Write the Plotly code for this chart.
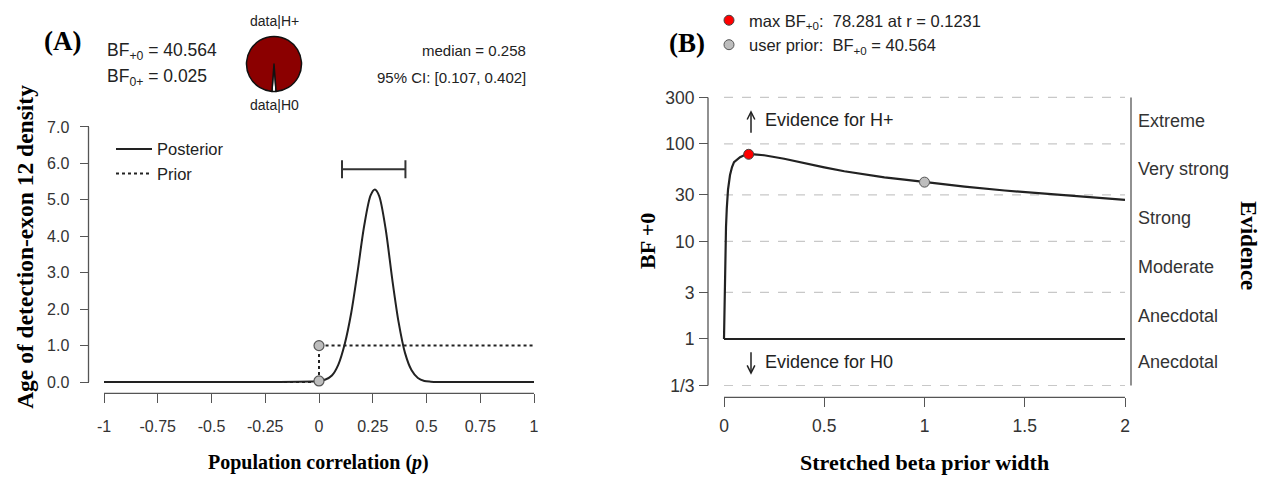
import math
import plotly.graph_objects as go

# ---------------- data ----------------
# Panel A: posterior / prior density of the population correlation
post_x = [-1.0, -0.5, 0.0, 0.03, 0.06, 0.09, 0.12, 0.15, 0.18, 0.21, 0.24, 0.26,
          0.28, 0.31, 0.34, 0.37, 0.40, 0.43, 0.46, 0.49, 0.52, 0.55, 0.6, 0.8, 1.0]
post_y = [0.0, 0.0, 0.03, 0.07, 0.18, 0.48, 1.05, 1.90, 3.05, 4.28, 5.12, 5.28,
          5.10, 4.20, 2.85, 1.65, 0.80, 0.33, 0.11, 0.03, 0.01, 0.0, 0.0, 0.0, 0.0]
prior_x = [-1.0, 0.0, 0.0, 1.0]
prior_y = [0.0, 0.0, 1.0, 1.0]
point_x = [0.0, 0.0]
point_y = [1.0, 0.03]
ci_low, ci_high = 0.107, 0.402
ci_y = 5.84
median_val = 0.258
bf_plus0 = 40.564
bf_0plus = 0.025
pie_labels = ["data|H0", "data|H+"]
pie_values = [1.0, 40.564]
xa_ticks = [-1, -0.75, -0.5, -0.25, 0, 0.25, 0.5, 0.75, 1]
xa_ticktext = ["-1", "-0.75", "-0.5", "-0.25", "0", "0.25", "0.5", "0.75", "1"]
ya_ticks = [0, 1, 2, 3, 4, 5, 6, 7]

# Panel B: robustness check
width_vals = [0, 0.002, 0.004, 0.007, 0.01, 0.014, 0.02, 0.03, 0.04, 0.05, 0.065, 0.08,
              0.1, 0.1231, 0.15, 0.2, 0.3, 0.4, 0.5, 0.6, 0.7, 0.8, 0.9, 1.0,
              1.2, 1.4, 1.6, 1.8, 2.0]
bf_vals = [1, 2, 4, 8, 14, 22, 34, 48, 58, 65, 69, 73,
           76.5, 78.281, 78.0, 76.5, 70.5, 63.5, 57.5, 52.5, 48.5, 45.5, 43, 40.564,
           36.5, 33.3, 30.8, 28.6, 26.7]
max_w, max_bf = 0.1231, 78.281
user_w, user_bf = 1.0, 40.564
xb_ticks = [0, 0.5, 1, 1.5, 2]
xb_ticktext = ["0", "0.5", "1", "1.5", "2"]
thresholds = [1/3, 1, 3, 10, 30, 100, 300]
threshold_text = ["1/3", "1", "3", "10", "30", "100", "300"]
evidence_labels = ["Anecdotal", "Anecdotal", "Moderate", "Strong", "Very strong", "Extreme"]

# ---------------- layout helpers ----------------
W, H = 1263, 477
SANS = "Liberation Sans, Arial, sans-serif"
SERIF = "Liberation Serif, Times New Roman, serif"
INK = "#222222"
AX = "#555555"
TXT = "#333333"


def fx(px):
    return px / W


def fy(py):
    return 1 - py / H


def dom(p1, v1, p2, v2, r0, r1):
    k = (p2 - p1) / (v2 - v1)
    return p1 + (r0 - v1) * k, p1 + (r1 - v1) * k


# panel A mapping
xa_range = [-1.06, 1.06]
xa_d = dom(104, -1, 534, 1, *xa_range)
ya_range = [-0.3, 7.15]
ya_d = dom(384.5, 0, 125, 7, *ya_range)
# panel B mapping
xb_range = [-0.05, 2.05]
xb_d = dom(724, 0, 1125, 2, *xb_range)
lo, hi = math.log10(1/3), math.log10(300)
yb_range = [lo - 0.06, hi + 0.06]
yb_d = dom(388, lo, 95, hi, *yb_range)

fig = go.Figure()

# ---------- panel A traces ----------
fig.add_trace(go.Scatter(x=post_x, y=post_y, mode="lines", name="Posterior",
                         line=dict(color=INK, width=2, shape="spline", smoothing=0.8),
                         xaxis="x", yaxis="y", legend="legend", hoverinfo="skip"))
fig.add_trace(go.Scatter(x=prior_x, y=prior_y, mode="lines", name="Prior",
                         line=dict(color=INK, width=2, dash="dot"),
                         xaxis="x", yaxis="y", legend="legend", hoverinfo="skip"))
fig.add_trace(go.Scatter(x=point_x, y=point_y, mode="markers", showlegend=False,
                         marker=dict(size=10, color="#bdbdbd", line=dict(color="#555555", width=1.2)),
                         xaxis="x", yaxis="y", cliponaxis=False, hoverinfo="skip"))
ci_mid = (ci_low + ci_high) / 2
fig.add_trace(go.Scatter(x=[ci_mid], y=[ci_y], mode="markers", showlegend=False,
                         marker=dict(size=1, color="rgba(0,0,0,0)"),
                         error_x=dict(type="data", symmetric=False, array=[ci_high - ci_mid],
                                      arrayminus=[ci_mid - ci_low], color="#333333",
                                      thickness=2, width=9),
                         xaxis="x", yaxis="y", hoverinfo="skip"))
fig.add_trace(go.Pie(labels=pie_labels, values=pie_values, sort=False, direction="clockwise",
                     rotation=180 - 180 * pie_values[0] / sum(pie_values),
                     marker=dict(colors=["#ffffff", "#8b0000"], line=dict(color="#111111", width=1.5)),
                     textinfo="none", showlegend=False, hoverinfo="skip",
                     domain=dict(x=[fx(246), fx(302)], y=[fy(89), fy(33)])))

# ---------- panel B traces ----------
for i, t in enumerate(thresholds):
    if t == 1:
        continue
    fig.add_trace(go.Scatter(x=[xb_ticks[0], xb_ticks[-1]], y=[t, t], mode="lines",
                             showlegend=False, line=dict(color="#c8c8c8", width=1.2, dash="dash"),
                             xaxis="x2", yaxis="y2", hoverinfo="skip"))
fig.add_trace(go.Scatter(x=[xb_ticks[0], xb_ticks[-1]], y=[1, 1], mode="lines", showlegend=False,
                         line=dict(color=INK, width=2), xaxis="x2", yaxis="y2", hoverinfo="skip"))
fig.add_trace(go.Scatter(x=width_vals, y=bf_vals, mode="lines", showlegend=False,
                         line=dict(color=INK, width=2.2), xaxis="x2", yaxis="y2", hoverinfo="skip"))
fig.add_trace(go.Scatter(x=[max_w], y=[max_bf], mode="markers",
                         name="max BF<sub>+0</sub>:  78.281 at r = 0.1231",
                         marker=dict(size=10, color="#ff0000", line=dict(color="#444444", width=1)),
                         xaxis="x2", yaxis="y2", legend="legend2", hoverinfo="skip"))
fig.add_trace(go.Scatter(x=[user_w], y=[user_bf], mode="markers",
                         name="user prior:  BF<sub>+0</sub> = 40.564",
                         marker=dict(size=10, color="#bdbdbd", line=dict(color="#555555", width=1)),
                         xaxis="x2", yaxis="y2", legend="legend2", hoverinfo="skip"))

tickfont = dict(family=SANS, size=16, color=TXT)
tickfontb = dict(family=SANS, size=17.5, color=TXT)
common = dict(showgrid=False, zeroline=False, showline=False, ticks="outside",
              ticklen=9, tickwidth=1.2, tickcolor=AX)

fig.update_layout(
    width=W, height=H, margin=dict(l=0, r=0, t=0, b=0),
    paper_bgcolor="white", plot_bgcolor="rgba(0,0,0,0)",
    xaxis=dict(domain=[fx(xa_d[0]), fx(xa_d[1])], range=xa_range, anchor="free",
               position=fy(396), tickvals=xa_ticks, ticktext=xa_ticktext,
               tickfont=tickfont, ticklabelstandoff=9, **common),
    yaxis=dict(domain=[fy(ya_d[0]), fy(ya_d[1])], range=ya_range, anchor="free",
               position=fx(88.5), tickvals=ya_ticks, tickformat=".1f",
               tickfont=tickfont, ticklabelstandoff=7, **common),
    xaxis2=dict(domain=[fx(xb_d[0]), fx(xb_d[1])], range=xb_range, anchor="free",
                position=fy(400), tickvals=xb_ticks, ticktext=xb_ticktext,
                tickfont=tickfontb, ticklabelstandoff=4, **common),
    yaxis2=dict(domain=[fy(yb_d[0]), fy(yb_d[1])], range=yb_range, type="log", anchor="free",
                position=fx(708), tickvals=thresholds, ticktext=threshold_text,
                tickfont=tickfontb, ticklabelstandoff=1, **common),
    yaxis3=dict(overlaying="y2", side="right", range=yb_range, type="log", anchor="free",
                position=fx(1131), tickvals=thresholds, showticklabels=False, **common),
    legend=dict(x=fx(111), y=fy(130), xanchor="left", yanchor="top", itemwidth=36,
                font=dict(family=SANS, size=16.5, color=INK), bgcolor="rgba(0,0,0,0)",
                tracegroupgap=0),
    legend2=dict(x=fx(709), y=fy(-1), xanchor="left", yanchor="top",
                 font=dict(family=SANS, size=16.5, color=INK), bgcolor="rgba(0,0,0,0)"),
    showlegend=True,
)

# axis lines (R-style, spanning only the tick range)
line_style = dict(color=AX, width=1.3)
shapes = [
    dict(type="line", xref="x", yref="paper", x0=xa_ticks[0], x1=xa_ticks[-1],
         y0=fy(396), y1=fy(396), line=line_style),
    dict(type="line", xref="paper", yref="y", x0=fx(88.5), x1=fx(88.5),
         y0=ya_ticks[0], y1=ya_ticks[-1], line=line_style),
    dict(type="line", xref="x2", yref="paper", x0=xb_ticks[0], x1=xb_ticks[-1],
         y0=fy(400), y1=fy(400), line=line_style),
    dict(type="line", xref="paper", yref="paper", x0=fx(708), x1=fx(708),
         y0=fy(388), y1=fy(95), line=line_style),
    dict(type="line", xref="paper", yref="paper", x0=fx(1131), x1=fx(1131),
         y0=fy(388), y1=fy(95), line=line_style),
]
fig.update_layout(shapes=shapes)


def ann(text, x, y, size, family=SANS, xanchor="center", angle=0, color=INK, **kw):
    fig.add_annotation(text=text, x=fx(x), y=fy(y), xref="paper", yref="paper",
                       showarrow=False, xanchor=xanchor, yanchor="middle", textangle=angle,
                       font=dict(family=family, size=size, color=color), **kw)


ann("<b>(A)</b>", 42, 38, 27, SERIF, "left", color="#000")
ann("<b>(B)</b>", 667, 40, 27, SERIF, "left", color="#000")
ann(f"BF<sub>+0</sub> = {bf_plus0:.3f}", 105, 48, 17.5, xanchor="left")
ann(f"BF<sub>0+</sub> = {bf_0plus:.3f}", 105, 75, 17.5, xanchor="left")
ann(f"median = {median_val:.3f}", 528, 47, 15, xanchor="right")
ann(f"95% CI: [{ci_low:.3f}, {ci_high:.3f}]", 528, 75, 15, xanchor="right")
ann(pie_labels[1], 274, 17, 14)
ann(pie_labels[0], 274, 103, 14)
ann("<b>Age of detection-exon 12 density</b>", 25, 247, 23.5, SERIF, angle=-90, color="#000")
ann("<b>Population correlation (<i>p</i>)</b>", 318, 466, 20, SERIF, color="#000")
ann("<b>BF +0</b>", 648, 241, 22, SERIF, angle=-90, color="#000")
ann("<b>Stretched beta prior width</b>", 924, 466, 22, SERIF, color="#000")
ann("<b>Evidence</b>", 1248, 245, 23, SERIF, angle=90, color="#000")
ann("Evidence for H+", 763, 118, 18, xanchor="left")
ann("Evidence for H0", 763, 364, 18, xanchor="left")

# evidence category labels at geometric midpoints between thresholds
for i, lab in enumerate(evidence_labels):
    mid = (math.log10(thresholds[i]) + math.log10(thresholds[i + 1])) / 2
    fig.add_annotation(text=lab, x=fx(1136), y=mid, xref="paper", yref="y2",
                       showarrow=False, xanchor="left", yanchor="middle",
                       font=dict(family=SANS, size=18, color=TXT))

# arrows
fig.add_annotation(text="", x=fx(751), y=fy(108), xref="paper", yref="paper",
                   ax=0, ay=24, showarrow=True, arrowhead=5, arrowsize=1,
                   arrowwidth=1.5, arrowcolor=INK)
fig.add_annotation(text="", x=fx(751), y=fy(377), xref="paper", yref="paper",
                   ax=0, ay=-24, showarrow=True, arrowhead=5, arrowsize=1,
                   arrowwidth=1.5, arrowcolor=INK)

fig.write_html("out.html")
